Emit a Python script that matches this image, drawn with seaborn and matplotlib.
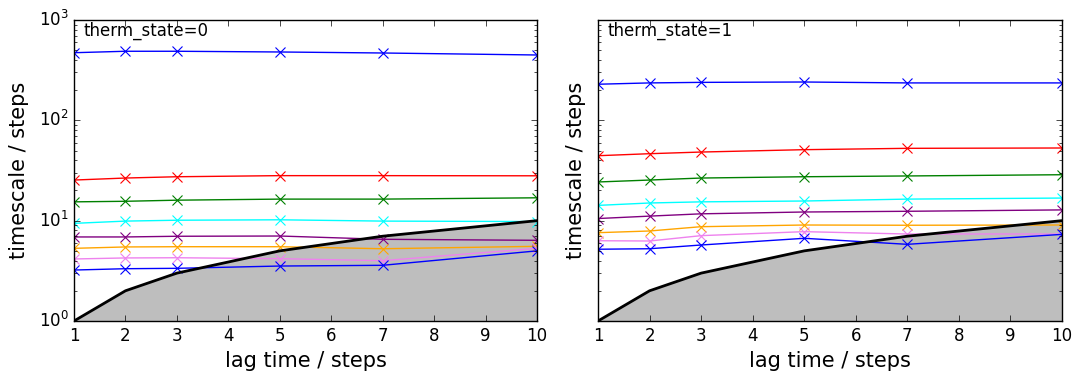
import numpy as np
import pandas as pd
import matplotlib
matplotlib.use("Agg")
import matplotlib.pyplot as plt
import seaborn as sns

lags = [1, 2, 3, 5, 7, 10]
colors = ["blue", "red", "green", "cyan", "purple", "orange", "violet", "blue"]

# therm_state = 0 implied timescales (8 processes)
ts0_p1 = [472, 488, 488, 480, 469, 448]
ts0_p2 = [25.4, 26.6, 27.4, 28.1, 28.1, 28.0]
ts0_p3 = [15.4, 15.6, 16.0, 16.4, 16.4, 16.9]
ts0_p4 = [9.4, 9.9, 10.1, 10.2, 9.9, 9.8]
ts0_p5 = [6.88, 6.88, 6.99, 7.03, 6.52, 6.37]
ts0_p6 = [5.3, 5.47, 5.5, 5.5, 5.25, 5.55]
ts0_p7 = [4.15, 4.25, 4.27, 4.18, 3.99, 5.3]
ts0_p8 = [3.22, 3.32, 3.35, 3.53, 3.59, 5.0]

# therm_state = 1 implied timescales
ts1_p1 = [229, 236, 239, 241, 236, 236]
ts1_p2 = [44.4, 46.5, 48.3, 51.0, 52.6, 53.0]
ts1_p3 = [24.3, 25.4, 26.6, 27.4, 27.9, 28.7]
ts1_p4 = [14.2, 15.0, 15.4, 15.7, 16.4, 16.8]
ts1_p5 = [10.5, 11.1, 11.7, 12.2, 12.4, 12.8]
ts1_p6 = [7.59, 7.89, 8.71, 9.05, 9.0, 9.05]
ts1_p7 = [6.31, 6.27, 7.09, 7.77, 7.36, 7.36]
ts1_p8 = [5.19, 5.25, 5.72, 6.67, 5.81, 7.3]

states = {
    0: [ts0_p1, ts0_p2, ts0_p3, ts0_p4, ts0_p5, ts0_p6, ts0_p7, ts0_p8],
    1: [ts1_p1, ts1_p2, ts1_p3, ts1_p4, ts1_p5, ts1_p6, ts1_p7, ts1_p8],
}

plt.style.use("classic")
plt.rcParams["figure.facecolor"] = "white"
plt.rcParams["savefig.facecolor"] = "white"
plt.rcParams["font.family"] = ["DejaVu Sans"]

fig = plt.figure(figsize=(10.82, 3.81), dpi=100)
ax0 = fig.add_axes([0.0684, 0.1575, 0.4279, 0.79])
ax1 = fig.add_axes([0.5527, 0.1575, 0.4288, 0.79], sharey=ax0)

for ax, st, pad in [(ax0, 0, 7), (ax1, 1, 5)]:
    rows = []
    for i, series in enumerate(states[st]):
        for lag, v in zip(lags, series):
            rows.append({"lag": lag, "ts": v, "proc": i})
    df = pd.DataFrame(rows)
    ax.fill_between(lags, lags, 1, color="#bebebe", zorder=1)
    ax.plot(lags, lags, color="black", lw=2, zorder=3)
    sns.lineplot(data=df, x="lag", y="ts", hue="proc", palette=colors,
                 marker="x", markersize=7, markeredgewidth=0.8, linewidth=1,
                 legend=False, ax=ax, zorder=2, markeredgecolor=None)
    ax.set_yscale("log")
    ax.set_xlim(1, 10)
    ax.set_ylim(1, 1000)
    ax.set_xlabel("lag time / steps", fontsize=15)
    ax.set_ylabel("timescale / steps", fontsize=15, labelpad=pad)
    ax.text(0.02, 0.995, f"therm_state={st}", transform=ax.transAxes,
            fontsize=12, va="top", ha="left")
    ax.tick_params(labelsize=12)

plt.setp(ax1.get_yticklabels(), visible=False)

fig.savefig("out.png", dpi=100)
